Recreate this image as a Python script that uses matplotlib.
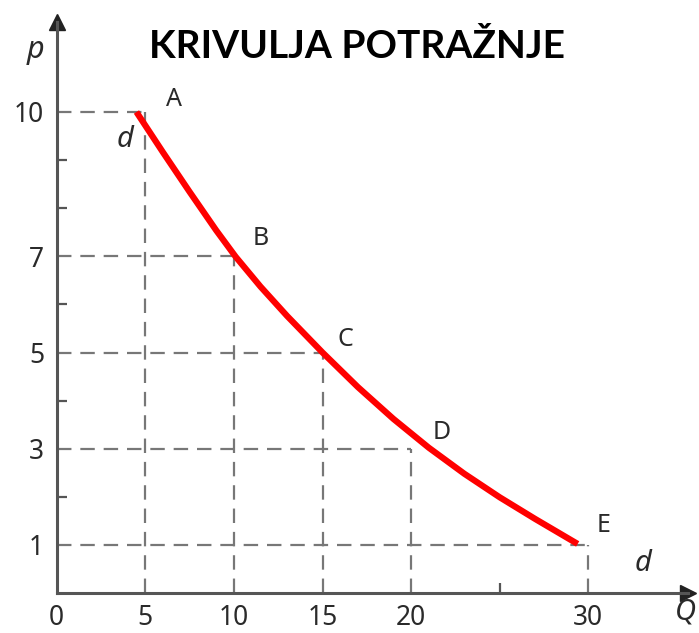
import matplotlib
matplotlib.use("Agg")
import matplotlib.pyplot as plt

plt.rcParams["font.family"] = ["Noto Sans", "DejaVu Sans"]

# ---- data ----
point_names = ["A", "B", "C", "D", "E"]
point_q = [5, 10, 15, 20, 30]
point_p = [10, 7, 5, 3, 1]

curve_q = [4.5, 6.0, 7.5, 9.0, 10.1, 11.5, 13.0, 15.0, 17.0, 19.0, 21.0, 23.0, 25.0, 27.0, 29.4]
curve_p = [10.0, 9.16, 8.34, 7.54, 6.99, 6.37, 5.76, 5.0, 4.28, 3.62, 3.02, 2.48, 1.99, 1.54, 1.02]

x_ticks = [0, 5, 10, 15, 20, 30]
x_minor = [25]
y_ticks = [1, 3, 5, 7, 10]
y_minor = [2, 4, 6, 8, 9]

title = "KRIVULJA POTRAŽNJE"

# ---- figure ----
W, H = 699, 633
fig = plt.figure(figsize=(W / 100, H / 100), dpi=100)
fig.patch.set_facecolor("white")

x0, x1 = 56.7, 688.0      # pixel positions of Q=0 and axis end
y0, y1 = 593.0, 22.0      # pixel (from top) of p=0 and axis end
ppu_x = 17.72
ppu_y = 48.1
ax = fig.add_axes([x0 / W, (H - y0) / H, (x1 - x0) / W, (y0 - y1) / H])
ax.set_xlim(0, (x1 - x0) / ppu_x)
ax.set_ylim(0, (y0 - y1) / ppu_y)

axis_col = "#555555"
text_col = "#2a2a2a"
dash_col = "#777777"

for s in ["top", "right"]:
    ax.spines[s].set_visible(False)
for s in ["left", "bottom"]:
    ax.spines[s].set_color(axis_col)
    ax.spines[s].set_linewidth(2.2)

# arrow heads
ax.plot(1, 0, ">", color="#222222", markersize=12, transform=ax.get_yaxis_transform(), clip_on=False)
ax.plot(0, 1, "^", color="#222222", markersize=12, transform=ax.get_xaxis_transform(), clip_on=False)

# dashed guide lines
for q, p in zip(point_q, point_p):
    ax.plot([0, q], [p, p], color=dash_col, lw=1.6, dashes=(6.5, 4), zorder=1)
    ax.plot([q, q], [0, p], color=dash_col, lw=1.6, dashes=(6.5, 4), zorder=1)

# demand curve
ax.plot(curve_q, curve_p, color="#ff0000", lw=4.5, solid_capstyle="butt",
        solid_joinstyle="round", zorder=3)

# ticks
ax.set_xticks(x_ticks)
ax.set_xticks(x_minor, minor=True)
ax.set_yticks(y_ticks)
ax.set_yticks(y_minor, minor=True)
ax.tick_params(axis="both", which="major", length=0, labelsize=19, labelcolor=text_col)
ax.tick_params(axis="both", which="minor", direction="in", length=7, width=1.6, color=axis_col)
ax.tick_params(axis="x", which="major", pad=8)
ax.tick_params(axis="y", which="major", pad=9)

# point labels
label_pos = {"A": (6.6, 10.25), "B": (11.5, 7.38), "C": (16.3, 5.28),
             "D": (21.7, 3.33), "E": (30.85, 1.41)}
for n in point_names:
    ax.text(*label_pos[n], n, fontsize=18, color=text_col, ha="center", va="center")

ax.text(3.85, 9.42, "d", fontsize=21, style="italic", color=text_col, ha="center", va="center")
ax.text(33.1, 0.62, "d", fontsize=21, style="italic", color=text_col, ha="center", va="center", clip_on=False)
ax.text(-1.22, 11.29, "p", fontsize=22, style="italic", color=text_col, ha="center", va="center", clip_on=False)
ax.text(35.46, -0.40, "Q", fontsize=21, style="italic", color=text_col, ha="center", va="center", clip_on=False)

fig.text(357 / W, 1 - 46 / H, title, fontsize=28, fontweight="bold", family="Lato",
         color="black", ha="center", va="center")

fig.savefig("out.png", dpi=100, facecolor="white")
